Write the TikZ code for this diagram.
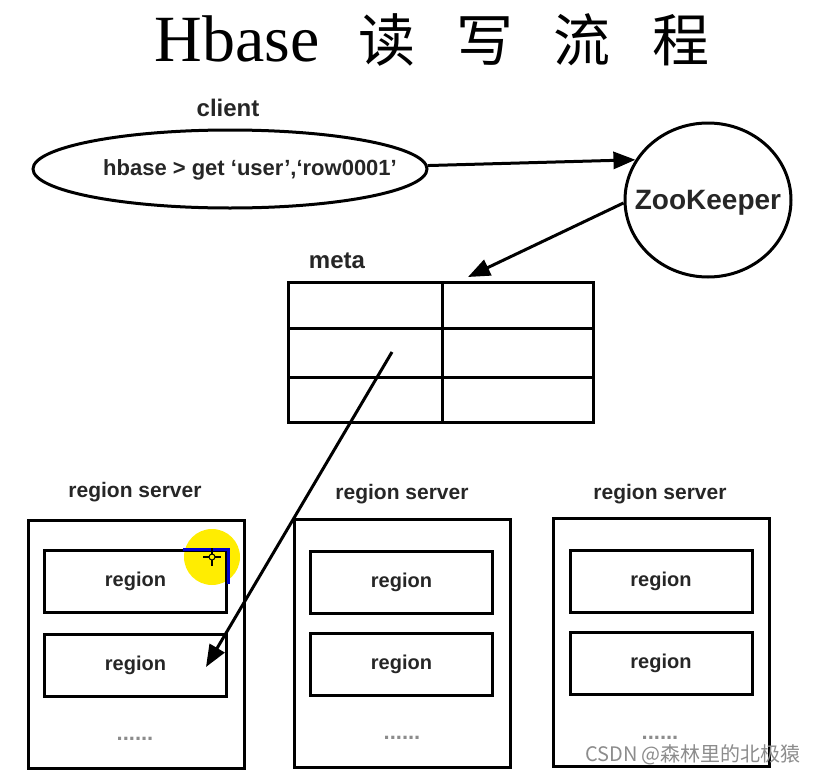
\documentclass[tikz,border=0pt]{standalone}
\usepackage{fontspec}
\setmainfont{Liberation Sans}
\newfontfamily\titlefont{Liberation Serif}
\newfontfamily\cjk{Noto Sans CJK SC}
\usepackage{tikz}
\usetikzlibrary{arrows.meta}
\usetikzlibrary{shapes.geometric}

\begin{document}
\begin{tikzpicture}[
    x=0.5pt, y=-0.5pt,
    every node/.style={font=\bfseries\fontsize{10}{12}\selectfont, text=black!85},
    lbl/.style={font=\bfseries\fontsize{12}{14}\selectfont},
    ttl/.style={anchor=base, text=black, font=\titlefont\fontsize{33}{36}\selectfont},
    ttlcjk/.style={anchor=base, text=black, font=\cjk\fontsize{28.5}{32}\selectfont},
    tbl/.style={draw, line width=1.5pt, minimum width=152.5pt, minimum height=70pt, inner sep=0pt},
    serverbox/.style={draw, line width=1.5pt, minimum width=108pt, minimum height=124pt, inner sep=0pt},
    regionbox/.style={draw, line width=1.5pt, minimum width=91pt, minimum height=31pt, inner sep=0pt},
    dots/.style={text=black!45, font=\bfseries\fontsize{11}{12}\selectfont},
    arr/.style={-{Triangle[length=11pt,width=8.5pt]}, line width=1.5pt},
]
\useasboundingbox (0,0) rectangle (815,777);
% === Title ===
\node[ttl] (title) at (237,61) {Hbase};
\node[ttlcjk] (t1) at (387,61) {读};
\node[ttlcjk] (t2) at (485,61) {写};
\node[ttlcjk] (t3) at (581.5,61) {流};
\node[ttlcjk] (t4) at (681,61) {程};
% === Client ===
\node[lbl] (clientlbl) at (228,108) {client};
\node[draw, ellipse, line width=1.5pt, minimum width=197pt, minimum height=39pt] (client) at (230,169) {};
\node[font=\bfseries\fontsize{11}{13}\selectfont] (cmd) at (250,170) {hbase > get ‘user’,‘row0001’};
% === ZooKeeper ===
\node[draw, ellipse, line width=1.5pt, inner sep=0pt, minimum width=83pt, minimum height=77pt] (zk) at (708,200) {};
\node[font=\bfseries\fontsize{14}{16}\selectfont] (zklbl) at (708,203) {ZooKeeper};
% === meta table ===
\node[lbl] (metalbl) at (337,261) {meta};
\node[tbl] (meta) at (440.5,352) {};
\draw[line width=1.5pt] (442,282) -- (442,422);
\draw[line width=1.5pt] (288,328) -- (593,328);
\draw[line width=1.5pt] (288,377) -- (593,377);
\coordinate (mtop) at (468,277);
\coordinate (ptr) at (392,352);
% === Region servers ===
\node (s1lbl) at (135,492) {\fontsize{10.5}{12}\selectfont region server};
\node (s2lbl) at (402,494) {\fontsize{10.5}{12}\selectfont region server};
\node (s3lbl) at (660,494) {\fontsize{10.5}{12}\selectfont region server};
\node[serverbox] (s1) at (136,644) {};
\node[serverbox] (s2) at (402,643.5) {};
\node[serverbox] (s3) at (661.5,642.5) {};
% cursor highlight
\fill[yellow!95!orange] (212,557) circle[radius=14pt];
\node[regionbox] (r11) at (135.5,581) {region};
\node[regionbox] (r12) at (135.5,665) {region};
\node[regionbox] (r21) at (401.5,582) {region};
\node[regionbox] (r22) at (401.5,664.5) {region};
\node[regionbox] (r31) at (661,581.5) {region};
\node[regionbox] (r32) at (661,663.5) {region};
\draw[blue!80!black, line width=1.5pt] (183,549) -- (228,549) -- (228,584);
\draw[black, line width=0.6pt] (203,557) -- (221,557) (212,548) -- (212,566);
\draw[black, fill=yellow, line width=0.5pt] (212,557) circle[radius=1.5pt];
\node[dots] (d1) at (135,739) {......};
\node[dots] (d2) at (402,738) {......};
\node[dots] (d3) at (660,738) {......};
\coordinate (hit) at (206,667);
% === Arrows ===
\draw[arr] (client.1) -- (zk.151);
\draw[arr] (zk.182) -- (mtop);
\draw[arr] (ptr) -- (hit);
% watermark
\node[font=\cjk\fontsize{10}{12}\selectfont, text=black!45] (wm) at (693,755) {CSDN @森林里的北极猿};
\end{tikzpicture}
\end{document}
